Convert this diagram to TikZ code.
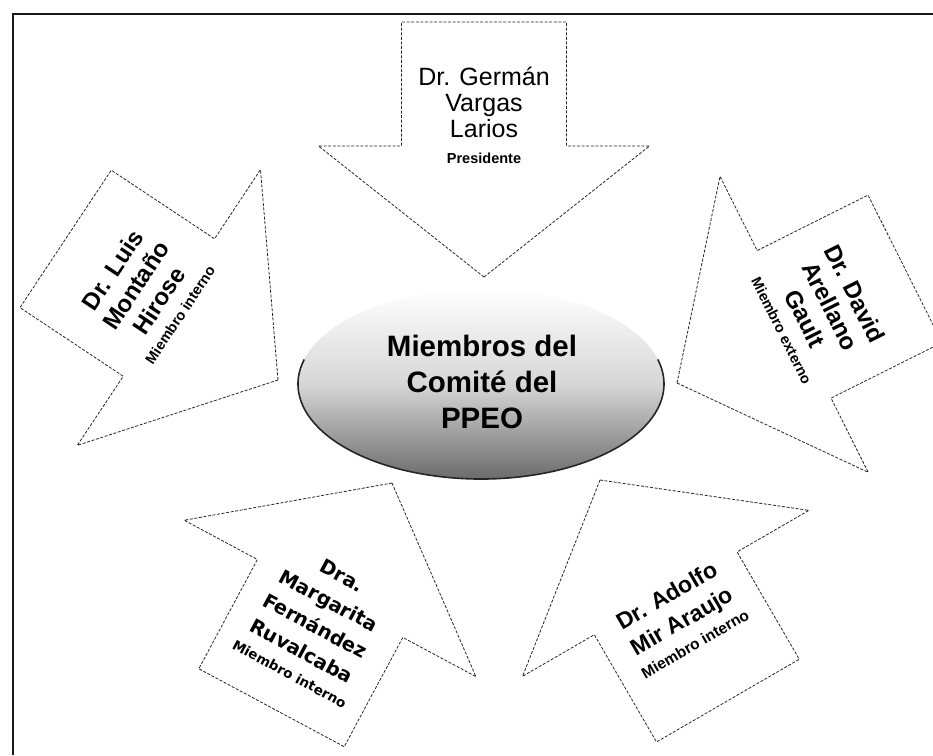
\documentclass[tikz,border=0pt]{standalone}
\usepackage{fontspec}
\setmainfont{Liberation Sans}
\newfontfamily\dvs{DejaVu Sans}
\usetikzlibrary{shapes.geometric}
\tikzset{
  arrowline/.style={draw=black!85, line width=0.8pt, dash pattern=on 3pt off 1.6pt, fill=white},
  namebox/.style={align=center, inner sep=0pt, font=\fontsize{25}{26}\selectfont},
  boldname/.style={align=center, inner sep=0pt, font=\fontsize{24}{28}\selectfont\bfseries},
}
\newcommand{\radarrowshape}{\draw[arrowline] (0,0) -- (165.5,131) -- (82.5,131) -- (82.5,255)
      -- (-82.5,255) -- (-82.5,131) -- (-165.5,131) -- cycle;}
\newcommand{\rolefont}{\fontsize{14.5}{17}\selectfont\bfseries}
\begin{document}
\begin{tikzpicture}[x=1pt,y=1pt]
\useasboundingbox (0,0) rectangle (933,-755);
% frame
\draw[line width=2pt, black!90] (13,-755) -- (13,-14) -- (933,-14);

% top arrow
\begin{scope}[shift={(484,-277)}]
  \radarrowshape
  \node[namebox] (german) at (0,162)
    {Dr. Germán\\Vargas\\Larios\\{\rolefont Presidente}};
\end{scope}

% left arrow
\begin{scope}[shift={(278,-380)}, rotate=56.4]
  \radarrowshape
  \node[boldname, rotate=56.4] (luis) at (0,160)
    {Dr. Luis\\Montaño\\Hirose\\[-6pt]{\rolefont Miembro interno}};
\end{scope}

% right arrow
\begin{scope}[shift={(677,-383)}, rotate=-63.4]
  \radarrowshape
  \node[boldname, rotate=-63.4] (david) at (0,160)
    {Dr. David\\Arellano\\Gault\\[-5pt]{\rolefont Miembro externo}};
\end{scope}

% bottom-left arrow
\begin{scope}[shift={(392,-483)}, rotate=151.8]
  \radarrowshape
  \node[align=center, inner sep=0pt, font=\dvs\fontsize{19.5}{28.5}\selectfont\bfseries, rotate=-28.2] (margarita) at (0,160)
    {Dra.\\Margarita\\Fernández\\Ruvalcaba\\[-4.5pt]{\fontsize{13.5}{16}\selectfont Miembro interno}};
\end{scope}

% bottom-right arrow
\begin{scope}[shift={(600,-480)}, rotate=210.1]
  \radarrowshape
  \node[align=center, inner sep=0pt, font=\fontsize{23}{29.5}\selectfont\bfseries, rotate=30.1] (adolfo) at (0,160)
    {Dr. Adolfo\\Mir Araujo\\[-5.5pt]{\fontsize{15.5}{18}\selectfont\bfseries Miembro interno}};
\end{scope}

% central ellipse
\node[ellipse, minimum width=366, minimum height=190, inner sep=0pt,
      top color=white, bottom color=black!58, middle color=gray!32] (center) at (481,-384) {};
\draw[line width=1.6pt, black!85] (481,-384) ++(165:183 and 95)
  arc[start angle=165, end angle=375, x radius=183, y radius=95];
\node[align=center, inner sep=0pt, font=\fontsize{29.5}{36}\selectfont\bfseries] (title) at (482,-382)
  {Miembros del\\Comité del\\PPEO};
\end{tikzpicture}
\end{document}
